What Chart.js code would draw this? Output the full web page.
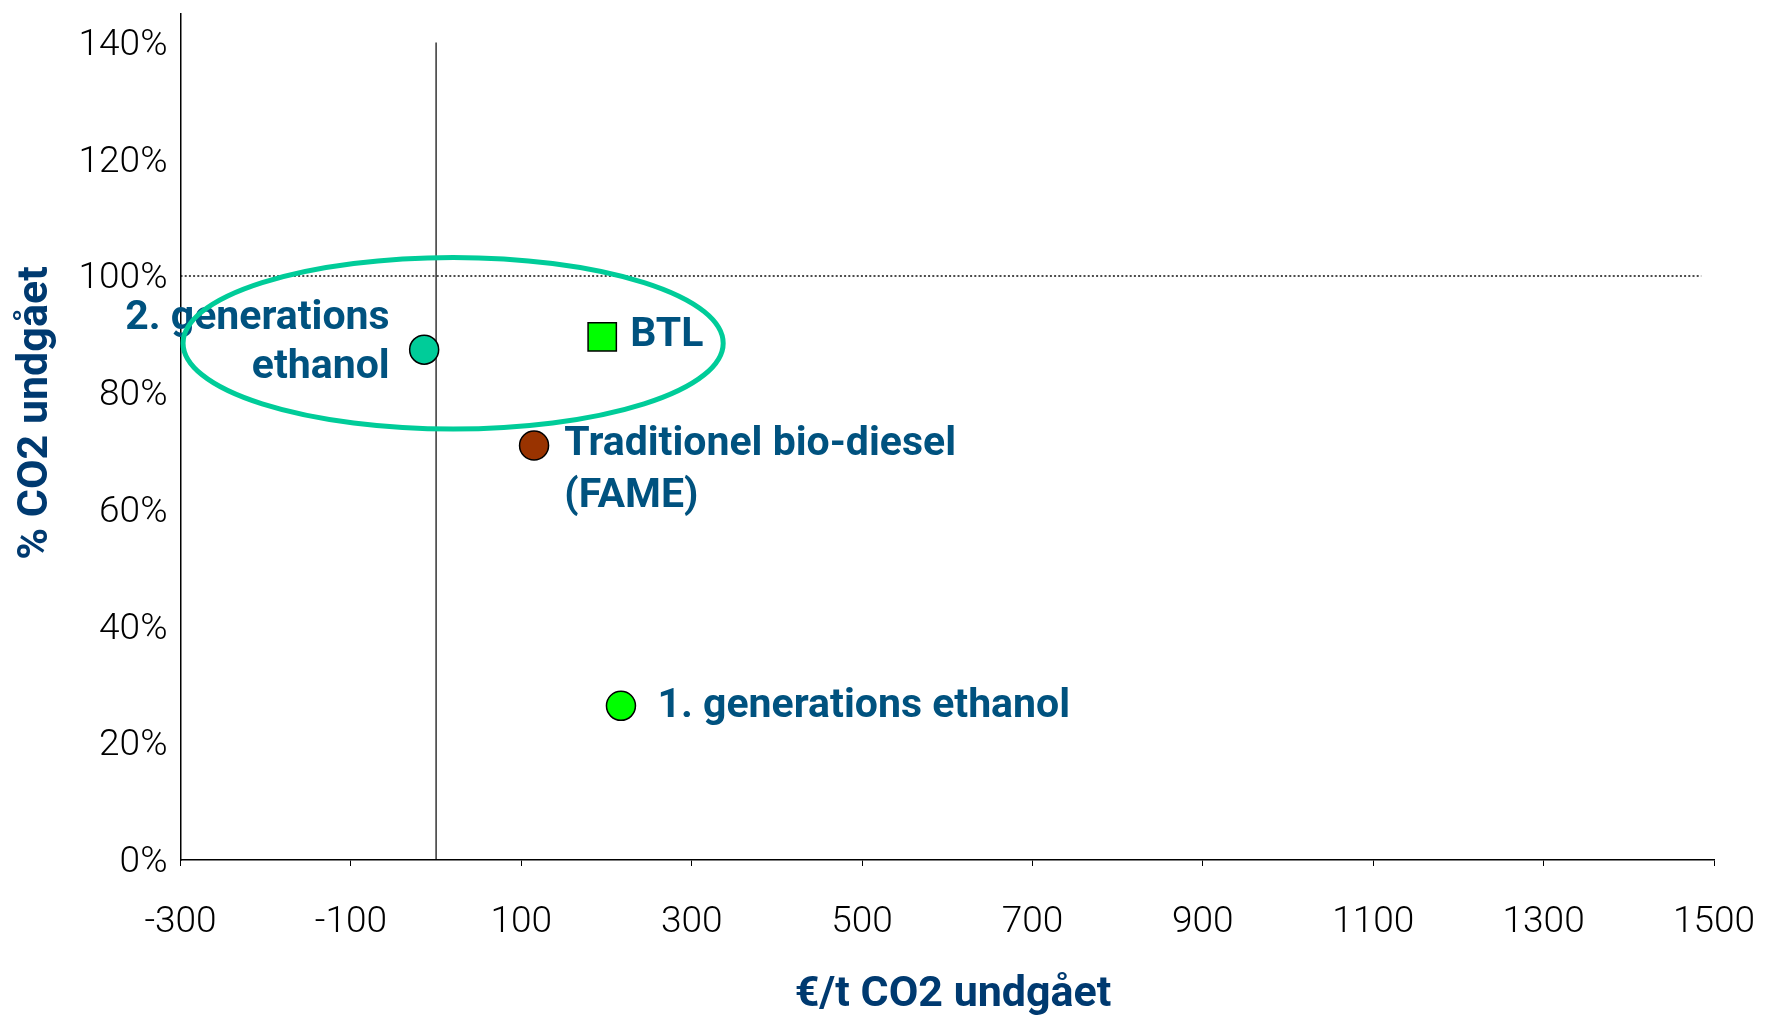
<!DOCTYPE html>
<html>
<head>
<meta charset="utf-8">
<script src="https://cdn.jsdelivr.net/npm/chart.js@4.4.1/dist/chart.umd.min.js"></script>
<style>
  html, body { margin: 0; padding: 0; background: #ffffff; }
  #wrap { width: 1768px; height: 1015px; position: relative; }
</style>
</head>
<body>
<div id="wrap"><canvas id="chart"></canvas></div>
<script>
// Biofuel pathways: abatement cost (EUR per tonne CO2 avoided) vs. share of CO2 avoided
const fuelNames = ['2. generations ethanol', 'BTL', 'Traditionel bio-diesel (FAME)', '1. generations ethanol'];
const costPerTonne = [-14, 195, 115, 217];
const co2Avoided = [0.874, 0.896, 0.71, 0.264];
const pointLabels = [['2. generations', 'ethanol'], ['BTL'], ['Traditionel bio-diesel', '(FAME)'], ['1. generations ethanol']];

const xTicks = [-300, -100, 100, 300, 500, 700, 900, 1100, 1300, 1500];
const xTickLabels = ['-300', '-100', '100', '300', '500', '700', '900', '1100', '1300', '1500'];
const yTicks = [0, 0.2, 0.4, 0.6, 0.8, 1.0, 1.2, 1.4];
const yTickLabels = ['0%', '20%', '40%', '60%', '80%', '100%', '120%', '140%'];

const xTitle = '€/t CO2 undgået';
const yTitle = '% CO2 undgået';

// Reference lines: zero cost and 100 % reduction
const zeroCostX = [0, 0];
const zeroCostY = [0, 1.4];
const fullCutX = [-300, 1485];
const fullCutY = [1.0, 1.0];

// Ring around the second-generation fuels (centre and radii in axis units)
const ringCenter = [20, 0.885];
const ringRadii = [317, 0.147];

const pointStyles = ['circle', 'rect', 'circle', 'circle'];
const pointColors = ['#00CC99', '#00FF00', '#993300', '#00FF00'];
const pointSizes = [14.5, 20, 14.5, 14.5];

const LABEL_COLOR = '#00527F';
const TITLE_COLOR = '#003A70';
const RING_COLOR = '#00CC99';

// text placement relative to each marker: [dx, first baseline dy, line step, align]
const labelPlacement = [
  [-34.5, -20.7, 49, 'right'],
  [28, 9.3, 0, 'left'],
  [30.3, 9.8, 51.5, 'left'],
  [36.5, 11, 0, 'left']
];

const annotate = {
  id: 'annotate',
  afterDatasetsDraw(chart) {
    const { ctx, scales: { x, y } } = chart;
    const meta = chart.getDatasetMeta(0);
    ctx.save();
    ctx.fillStyle = LABEL_COLOR;
    ctx.font = 'bold 41px Roboto, "Open Sans", sans-serif';
    ctx.textBaseline = 'alphabetic';
    meta.data.forEach((pt, i) => {
      const [dx, dy, step, align] = labelPlacement[i];
      ctx.textAlign = align;
      pointLabels[i].forEach((line, j) => {
        ctx.fillText(line, pt.x + dx, pt.y + dy + j * step);
      });
    });
    // ring
    const cx = x.getPixelForValue(ringCenter[0]);
    const cy = y.getPixelForValue(ringCenter[1]);
    const rx = Math.abs(x.getPixelForValue(ringCenter[0] + ringRadii[0]) - cx);
    const ry = Math.abs(y.getPixelForValue(ringCenter[1] + ringRadii[1]) - cy);
    ctx.beginPath();
    ctx.ellipse(cx, cy, rx, ry, 0, 0, Math.PI * 2);
    ctx.lineWidth = 5;
    ctx.strokeStyle = RING_COLOR;
    ctx.stroke();

    // axis titles
    ctx.fillStyle = TITLE_COLOR;
    ctx.font = 'bold 43px Roboto, "Open Sans", sans-serif';
    ctx.textAlign = 'center';
    ctx.textBaseline = 'middle';
    ctx.fillText(xTitle, 953, 995);
    ctx.translate(36.5, 413);
    ctx.rotate(-Math.PI / 2);
    ctx.fillText(yTitle, 0, 0);
    ctx.restore();
  }
};

const tickFont = { family: 'Roboto', weight: 300, size: 37 };

new Chart(document.getElementById('chart'), {
  type: 'scatter',
  data: {
    datasets: [
      {
        label: 'Brændstoffer',
        data: costPerTonne.map((v, i) => ({ x: v, y: co2Avoided[i] })),
        pointStyle: pointStyles,
        pointRadius: pointSizes,
        pointHoverRadius: pointSizes,
        backgroundColor: pointColors,
        borderColor: '#000000',
        borderWidth: 1.5,
        order: 0
      },
      {
        label: 'Nul omkostning',
        data: zeroCostX.map((v, i) => ({ x: v, y: zeroCostY[i] })),
        showLine: true,
        borderColor: '#000000',
        borderWidth: 1.2,
        pointRadius: 0,
        order: 2
      },
      {
        label: '100 %',
        data: fullCutX.map((v, i) => ({ x: v, y: fullCutY[i] })),
        showLine: true,
        borderColor: '#111111',
        borderWidth: 1.6,
        borderDash: [2, 2.2],
        pointRadius: 0,
        order: 1
      }
    ]
  },
  options: {
    responsive: true,
    maintainAspectRatio: false,
    animation: false,
    devicePixelRatio: 1,
    layout: { autoPadding: false, padding: { top: 13.3, right: 54, bottom: 0, left: 0 } },
    plugins: { legend: { display: false }, tooltip: { enabled: false } },
    scales: {
      x: {
        type: 'linear',
        min: -300,
        max: 1500,
        afterBuildTicks: (s) => { s.ticks = xTicks.map(v => ({ value: v })); },
        afterFit: (s) => { s.height = 155; s.paddingLeft = 0; s.paddingRight = 0; },
        grid: { drawOnChartArea: false, drawTicks: true, tickLength: 6, color: '#000000', lineWidth: 1 },
        border: { display: true, color: '#000000', width: 1.5 },
        ticks: {
          font: tickFont,
          color: '#000000',
          padding: 35,
          maxRotation: 0,
          autoSkip: false,
          callback: (v, i) => xTickLabels[i]
        }
      },
      y: {
        type: 'linear',
        min: 0,
        max: 1.45,
        afterBuildTicks: (s) => { s.ticks = yTicks.map(v => ({ value: v })); },
        afterFit: (s) => { s.width = 180.5; s.paddingTop = 0; s.paddingBottom = 0; },
        grid: { drawOnChartArea: false, drawTicks: false },
        border: { display: true, color: '#000000', width: 1.5 },
        ticks: {
          font: tickFont,
          color: '#000000',
          padding: 13,
          labelOffset: 3,
          autoSkip: false,
          callback: (v, i) => yTickLabels[i]
        }
      }
    }
  },
  plugins: [annotate]
});
</script>
</body>
</html>
